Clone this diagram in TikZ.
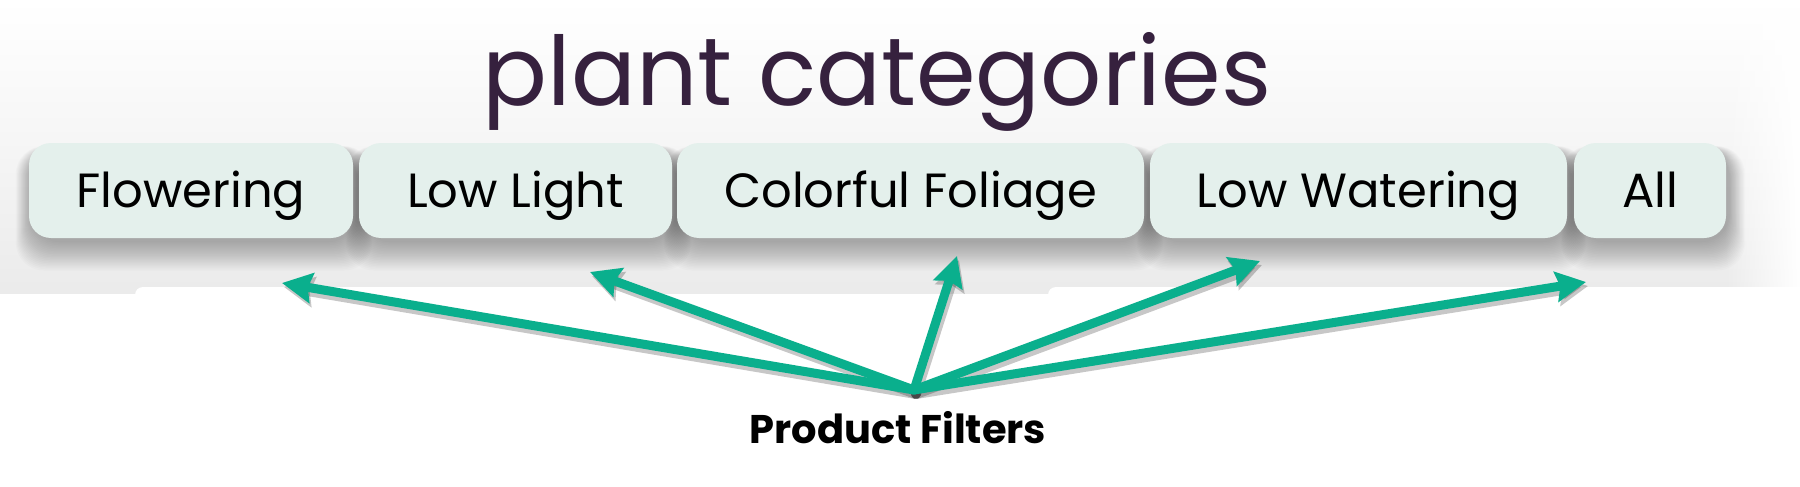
\documentclass[tikz,border=0pt]{standalone}
\usepackage{fontspec}
\setmainfont{Poppins}
\usetikzlibrary{arrows.meta,fadings}
\definecolor{arrowteal}{HTML}{0AAF8D}
\definecolor{btnfill}{HTML}{E4F0EC}
\definecolor{titlecol}{HTML}{36213E}
\tikzfading[name=fadetoright, left color=transparent!100, right color=transparent!0]
\tikzset{
  btn/.style={draw=none, fill=btnfill, rounded corners=22pt, minimum height=95pt,
    inner sep=0pt, text height=34pt, text depth=0pt, font=\fontsize{48}{58}\selectfont},
  btnshadow/.style={black, opacity=0.017, rounded corners=28pt},
  pointer/.style={line width=9pt, arrowteal, line cap=round,
    -{Stealth[length=30pt, width=30pt, inset=4pt]}},
  pointershadow/.style={line width=10pt, black, opacity=0.22, line cap=round,
    -{Stealth[length=30pt, width=30pt, inset=4pt]}}
}
\begin{document}
\begin{tikzpicture}[x=1pt,y=-1pt]
\useasboundingbox (0,0) rectangle (1800,487);
\fill[white] (0,0) rectangle (1800,487);
% backdrop band
\shade[top color=white, bottom color=white!97!black] (0,0) rectangle (1800,120);
\shade[top color=white!97!black, bottom color=white!92!black] (0,120) rectangle (1800,294);
% button shadows
\foreach \a/\b in {29/353,359/672,677/1144,1150/1567,1574/1726}{
  \foreach \k in {0,...,19}{
    \fill[btnshadow] (\a+2-\k*0.8, 150-\k*0.2) rectangle (\b+4+\k*0.8, 242+\k*1.5);
  }
}
\fill[white, path fading=fadetoright] (1725,0) rectangle (1800,294);
% white cards
\fill[white, rounded corners=8pt] (135,287) rectangle (640,520);
\fill[white, rounded corners=8pt] (1048,287) rectangle (1850,520);
\fill[white] (0,294) rectangle (1800,487);

% title
\node[font=\fontsize{96}{110}\selectfont, text=titlecol, anchor=base, inner sep=0pt] (title) at (877,106) {plant categories};

% buttons
\node[btn, minimum width=324pt] (flw) at (191,190.5) {Flowering};
\node[btn, minimum width=313pt] (low) at (515.5,190.5) {Low Light};
\node[btn, minimum width=467pt] (col) at (910.5,190.5) {Colorful Foliage};
\node[btn, minimum width=417pt] (wat) at (1358.5,190.5) {Low Watering};
\node[btn, minimum width=152pt] (all) at (1650,190.5) {All};

% pointers
\coordinate (hub) at (914,390);
\coordinate (t1) at (282,283);
\coordinate (t2) at (590,272);
\coordinate (t3) at (957,256);
\coordinate (t4) at (1260,261);
\coordinate (t5) at (1586,282);
\foreach \t in {t1,t2,t3,t4,t5}{
  \draw[pointershadow] ([shift={(2,4)}]hub) -- ([shift={(2,4)}]\t);
}
\foreach \t in {t1,t2,t3,t4,t5}{
  \draw[pointer] (hub) -- (\t);
}

% label
\node[font=\bfseries\fontsize{40}{48}\selectfont, anchor=base, inner sep=0pt] (pf) at (898,443) {Product Filters};
\end{tikzpicture}
\end{document}
